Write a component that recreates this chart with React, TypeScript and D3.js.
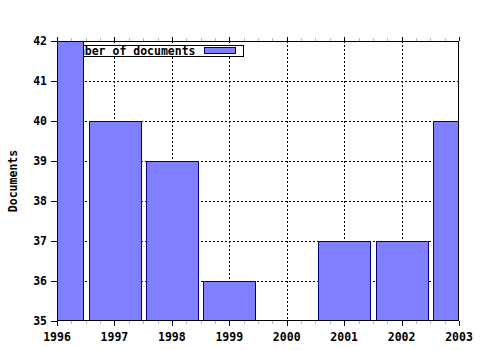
import React from "react";
import * as d3 from "d3";

const years = [1996, 1997, 1998, 1999, 2000, 2001, 2002, 2003];
const documents = [42, 40, 39, 36, 35, 37, 37, 40];
const yTicks = [35, 36, 37, 38, 39, 40, 41, 42];
const seriesName = "Number of documents";
const yLabel = "Documents";

const W = 480, H = 350;
const L = 57, R = 459, T = 41, B = 321;
const FONT = "'DejaVu Sans Mono', monospace";

export default function App() {
  const x = d3.scaleLinear().domain([1996, 2003]).range([L, R]);
  const y = d3.scaleLinear().domain([35, 42]).range([B, T]);
  const step = x(1997) - x(1996);
  const bw = step * 0.9;
  const minor = d3.range(1996, 2003.001, 0.25).filter((v) => Math.abs(v - Math.round(v)) > 0.01);

  return (
    <svg width={W} height={H} style={{ position: "absolute", left: 0, top: 0, background: "#fff" }}>
      <defs>
        <clipPath id="plot">
          <rect x={L} y={T} width={R - L} height={B - T} />
        </clipPath>
      </defs>
      <rect x={0} y={0} width={W} height={H} fill="#fff" />
      {/* grid */}
      <g stroke="#000" strokeWidth={1} strokeDasharray="2,2" shapeRendering="crispEdges">
        {years.slice(1, -1).map((v) => (
          <line key={"gx" + v} x1={Math.round(x(v)) + 0.5} x2={Math.round(x(v)) + 0.5} y1={T} y2={B} />
        ))}
        {yTicks.slice(1, -1).map((v) => (
          <line key={"gy" + v} x1={L} x2={R} y1={Math.round(y(v)) + 0.5} y2={Math.round(y(v)) + 0.5} />
        ))}
      </g>
      {/* legend */}
      <g>
        <rect x={60.5} y={45.5} width={183} height={11} fill="#fff" stroke="#000" shapeRendering="crispEdges" />
        <text x={64} y={55} fontFamily={FONT} fontWeight="bold" fontSize={11.5} fill="#000">{seriesName}</text>
        <rect x={204.5} y={47.5} width={31} height={6} fill="#8080ff" stroke="#000080" shapeRendering="crispEdges" />
      </g>
      {/* bars */}
      <g clipPath="url(#plot)">
        {years.map((v, i) => (
          <rect
            key={"b" + v}
            x={Math.round(x(v) - bw / 2) + 0.5}
            y={Math.round(y(documents[i])) + 0.5}
            width={Math.round(bw)}
            height={Math.max(0, Math.round(y(35)) - Math.round(y(documents[i])))}
            fill="#8080ff"
            stroke="#000080"
            strokeWidth={1}
            shapeRendering="crispEdges"
          />
        ))}
      </g>
      {/* frame */}
      <rect x={L + 0.5} y={T + 0.5} width={R - L - 1} height={B - T - 1} fill="none" stroke="#000" shapeRendering="crispEdges" />
      {/* x ticks */}
      <g stroke="#000" shapeRendering="crispEdges">
        {years.map((v) => (
          <g key={"xt" + v}>
            <line x1={Math.round(x(v)) + 0.5} x2={Math.round(x(v)) + 0.5} y1={B} y2={B + 5} />
            <line x1={Math.round(x(v)) + 0.5} x2={Math.round(x(v)) + 0.5} y1={T} y2={T - 4} />
          </g>
        ))}
        {minor.map((v) => (
          <g key={"xm" + v} stroke="#bbb">
            <line x1={Math.round(x(v)) + 0.5} x2={Math.round(x(v)) + 0.5} y1={B} y2={B + 3} />
            <line x1={Math.round(x(v)) + 0.5} x2={Math.round(x(v)) + 0.5} y1={T} y2={T - 3} />
          </g>
        ))}
        {yTicks.map((v) => (
          <line key={"yt" + v} x1={L - 6} x2={L} y1={Math.round(y(v)) + 0.5} y2={Math.round(y(v)) + 0.5} />
        ))}
      </g>
      {/* labels */}
      <g fontFamily={FONT} fontWeight="bold" fontSize={11.5} fill="#000">
        {years.map((v) => (
          <text key={"xl" + v} x={x(v)} y={341} textAnchor="middle">{v}</text>
        ))}
        {yTicks.map((v) => (
          <text key={"yl" + v} x={47} y={y(v) + 4} textAnchor="end">{v}</text>
        ))}
        <text transform={`translate(17,${(T + B) / 2}) rotate(-90)`} textAnchor="middle">{yLabel}</text>
      </g>
    </svg>
  );
}
